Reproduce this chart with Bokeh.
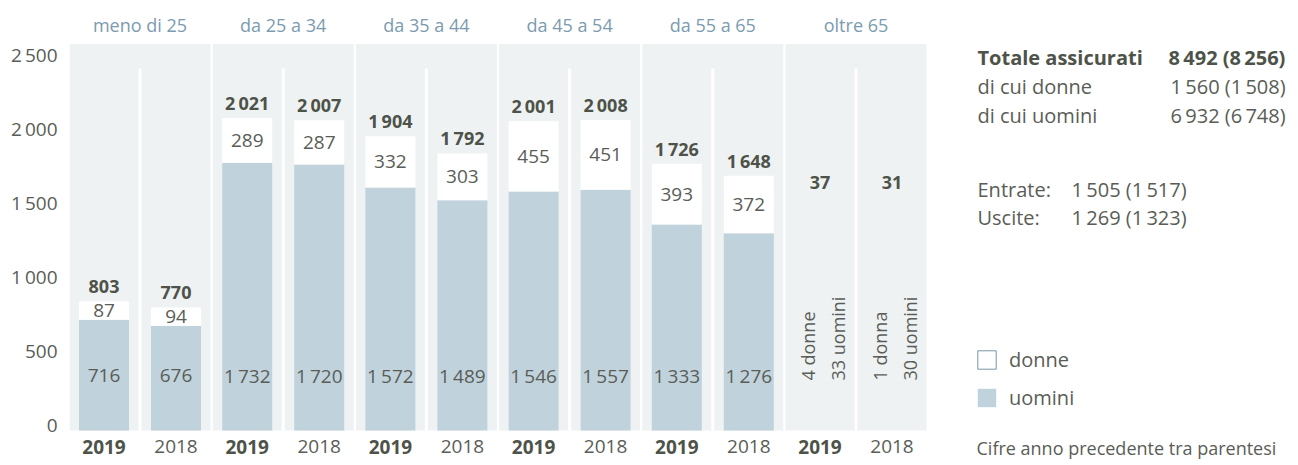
import numpy as np
from bokeh.plotting import figure
from bokeh.models import (ColumnDataSource, Range1d, LinearAxis, FixedTicker,
                          Label, Legend, LegendItem)
from bokeh.core.properties import value
from bokeh.embed import file_html
from bokeh.resources import INLINE

# ---------------- data ----------------
groups = ["meno di 25", "da 25 a 34", "da 35 a 44", "da 45 a 54", "da 55 a 65", "oltre 65"]
years = ["2019", "2018"]
uomini_2019 = [716, 1732, 1572, 1546, 1333, 33]
donne_2019 = [87, 289, 332, 455, 393, 4]
uomini_2018 = [676, 1720, 1489, 1557, 1276, 30]
donne_2018 = [94, 287, 303, 451, 372, 1]
# last group is shown only as text (no bars)
draw_bars = [True, True, True, True, True, False]
oltre_notes = ["4 donne\n33 uomini", "1 donna\n30 uomini"]

y_ticks = [0, 500, 1000, 1500, 2000, 2500]

totale = (8492, 8256)
donne_tot = (1560, 1508)
uomini_tot = (6932, 6748)
entrate = (1505, 1517)
uscite = (1269, 1323)

# ---------------- styling ----------------
FONT = "Open Sans"
PANEL = "#eef2f3"
UOMINI_C = "#c0d2dc"
TXT = "#5a5d57"
BOLD_TXT = "#4e5349"
GROUP_TXT = "#7b9bb0"
W, H = 1294, 462
ORX, ORY = 1, 1          # figure top-left in page pixels
FRAME_LEFT = 70          # page x where the plotting frame starts
LEFT = FRAME_LEFT - ORX

PX_PER_UNIT = 0.1546
Y0_PAGE = 431.0
STRIDE = 143.2
X0_PAGE = 140.5
YEAR_ROW = 447


def ydat(py):
    return (Y0_PAGE - py) / PX_PER_UNIT


def xdat(px):
    return (px - X0_PAGE) / STRIDE


def fmt(n):
    return f"{n:,}".replace(",", "\u2009")


def pair(t):
    return f"{fmt(t[0])} ({fmt(t[1])})"


# ---------------- derived table ----------------
ng = len(groups)
gi = np.arange(ng)
offset = 36 / STRIDE
bar_w = 50 / STRIDE
min_box = 120  # minimum visual height of the women box (data units)

rows = {"x": [], "u": [], "d": [], "tot": [], "year": [], "bar": []}
for i in range(ng):
    for j, (u, d) in enumerate([(uomini_2019[i], donne_2019[i]), (uomini_2018[i], donne_2018[i])]):
        rows["x"].append(i + (-offset if j == 0 else offset))
        rows["u"].append(u)
        rows["d"].append(d)
        rows["tot"].append(u + d)
        rows["year"].append(years[j])
        rows["bar"].append(draw_bars[i])

x = np.array(rows["x"])
u = np.array(rows["u"], dtype=float)
d = np.array(rows["d"], dtype=float)
bar = np.array(rows["bar"])
dtop = u + np.maximum(d, min_box)

bars_src = ColumnDataSource(dict(
    x=x[bar], u=u[bar], dtop=dtop[bar],
    dmid=((u + dtop) / 2)[bar],
    ulab=[fmt(v) for v in u[bar].astype(int)],
    dlab=[fmt(v) for v in d[bar].astype(int)],
))

tot_y = np.where(bar, dtop + 15 / PX_PER_UNIT, ydat(183))
tot_src = ColumnDataSource(dict(x=x, y=tot_y, t=[fmt(v) for v in rows["tot"]]))

year_src = ColumnDataSource(dict(
    x=x, y=[ydat(YEAR_ROW)] * len(x), t=rows["year"],
    style=["bold" if yv == years[0] else "normal" for yv in rows["year"]],
    color=[BOLD_TXT if yv == years[0] else TXT for yv in rows["year"]],
))

note_src = ColumnDataSource(dict(x=x[~bar] + 3 / STRIDE, y=[ydat(381)] * int((~bar).sum()), t=oltre_notes))

panel_src = ColumnDataSource(dict(x=gi, top=[y_ticks[-1]] * ng, name=groups))

# ---------------- figure ----------------
p = figure(width=W, height=H,
           x_range=Range1d(xdat(FRAME_LEFT), xdat(ORX + W)),
           y_range=Range1d(ydat(ORY + H), ydat(ORY)),
           output_backend="svg", toolbar_location=None,
           x_axis_location=None, y_axis_location=None,
           min_border_left=LEFT, min_border_right=0,
           min_border_top=0, min_border_bottom=0)
p.outline_line_color = None
p.grid.visible = False
p.background_fill_color = "white"
p.border_fill_color = "white"

# axis range positioned like the reference tick labels
AX_PX = 0.148
AX_ZERO = 425.0
p.extra_y_ranges = {"ax": Range1d((AX_ZERO - (ORY + H)) / AX_PX, (AX_ZERO - ORY) / AX_PX)}
yax = LinearAxis(y_range_name="ax", ticker=FixedTicker(ticks=y_ticks),
                 major_label_overrides={t: fmt(t) for t in y_ticks},
                 axis_line_color=None, major_tick_line_color=None,
                 minor_tick_line_color=None, major_label_standoff=6,
                 major_label_text_font=FONT, major_label_text_font_size="19px",
                 major_label_text_color=TXT)
p.add_layout(yax, "left")

# group panels
p.vbar(x="x", top="top", bottom=0, width=141 / STRIDE, source=panel_src,
       fill_color=PANEL, line_color=None)
# white dividers between the two years
p.segment(x0="x", x1="x", y0=0, y1=ydat(69), source=panel_src,
          line_color="white", line_width=3)

# bars
r_u = p.vbar(x="x", top="u", bottom=0, width=bar_w, source=bars_src,
             fill_color=UOMINI_C, line_color=None)
p.vbar(x="x", top="dtop", bottom="u", width=bar_w, source=bars_src,
       fill_color="white", line_color=None)

# group labels
p.text(x="x", y=ydat(25), text="name", source=panel_src,
       text_font=value(FONT), text_font_size="18px", text_color=GROUP_TXT,
       text_align="center", text_baseline="middle")

# bar labels
p.text(x="x", y=ydat(376), text="ulab", source=bars_src,
       text_font=value(FONT), text_font_size="19px", text_color=TXT,
       text_align="center", text_baseline="middle")
p.text(x="x", y="dmid", text="dlab", source=bars_src,
       text_font=value(FONT), text_font_size="19px", text_color=TXT,
       text_align="center", text_baseline="middle")
p.text(x="x", y="y", text="t", source=tot_src,
       text_font=value(FONT), text_font_size="18px", text_font_style="bold",
       text_color=BOLD_TXT, text_align="center", text_baseline="middle")
p.text(x="x", y="y", text="t", source=note_src, angle=np.pi / 2,
       text_font=value(FONT), text_font_size="18px", text_color=TXT,
       text_align="left", text_baseline="middle", text_line_height=1.25)

# years
p.text(x="x", y="y", text="t", source=year_src,
       text_font=value(FONT), text_font_size="19px", text_font_style="style",
       text_color="color", text_align="center", text_baseline="middle")

# right side summary
def lab(px, py, text, bold=False, align="left", size="20px"):
    p.add_layout(Label(x=xdat(px), y=ydat(py), text=text, text_font=FONT,
                       text_font_size=size, text_color=BOLD_TXT if bold else TXT,
                       text_font_style="bold" if bold else "normal",
                       text_align=align, text_baseline="middle"))

lab(978, 58, "Totale assicurati", bold=True, size="20px")
lab(1169, 58, pair(totale), bold=True, size="20px")
lab(978, 87, "di cui donne")
lab(1171, 87, pair(donne_tot))
lab(978, 116, "di cui uomini")
lab(1171, 116, pair(uomini_tot))
lab(978, 190, "Entrate:")
lab(1072, 190, pair(entrate))
lab(978, 218, "Uscite:")
lab(1072, 218, pair(uscite))
lab(977, YEAR_ROW + 1, "Cifre anno precedente tra parentesi", size="18px")

# legend (legend-only renderer for the outlined "donne" swatch)
r_d_leg = p.vbar(x=[np.nan], top=[np.nan], bottom=[np.nan], width=bar_w,
                 fill_color="white", line_color="#7d95a5")
legend = Legend(items=[LegendItem(label="donne", renderers=[r_d_leg]),
                       LegendItem(label="uomini", renderers=[r_u])],
                location=(977 - 1 - FRAME_LEFT, (ORY + H) - 412),
                glyph_width=23, glyph_height=23, label_standoff=11,
                label_text_font=FONT, label_text_font_size="20px",
                label_text_color=TXT, spacing=11, padding=0, margin=0,
                background_fill_alpha=0, border_line_alpha=0)
p.add_layout(legend, "center")

open("out.html", "w").write(file_html(p, INLINE))
